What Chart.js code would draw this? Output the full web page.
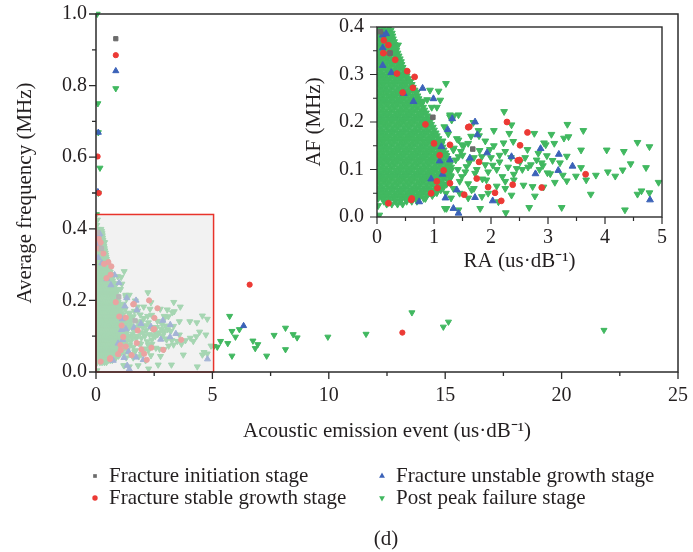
<!DOCTYPE html>
<html>
<head>
<meta charset="utf-8">
<script src="https://cdn.jsdelivr.net/npm/chart.js@4/dist/chart.umd.min.js"></script>
<style>
  html, body { margin: 0; padding: 0; background: #ffffff; }
  #wrap { position: relative; width: 693px; height: 552px; }
  #wrap canvas { position: absolute; left: 0; top: 0; }
</style>
</head>
<body>
<div id="wrap">
  <canvas id="mainChart" width="693" height="552"></canvas>
  <canvas id="insetChart" width="693" height="552"></canvas>
</div>
<script>
// ---- Series labels, colours and marker shapes ----
const seriesLabels = [
  'Fracture initiation stage',
  'Fracture stable growth stage',
  'Fracture unstable growth stage',
  'Post peak failure stage'
];
const seriesColors = ['#6b6b6b', '#ec3a35', '#3b62b8', '#41b860'];
const seriesStyles = ['rect', 'circle', 'triangle', 'triangle'];
const seriesRotation = [0, 0, 0, 180];

// ---- RA (us·dB^-1) vs AF (MHz) points, [x, y] ----
const initiationPts = [
  [0.85, 0.931], [0.98, 0.210], [1.68, 0.143], [0.23, 0.345], [0.06, 0.390]
];

const stableGrowthPts = [
  [0.85, 0.885], [0.07, 0.602], [0.12, 0.500], [6.60, 0.244], [13.16, 0.110],
  [0.12, 0.372], [0.22, 0.345], [0.32, 0.331], [0.53, 0.307], [0.66, 0.295],
  [0.35, 0.302], [0.20, 0.362], [0.11, 0.345], [1.60, 0.189], [2.28, 0.200],
  [2.64, 0.178], [2.51, 0.151], [2.47, 0.119], [1.75, 0.081], [1.95, 0.063],
  [2.07, 0.051], [2.89, 0.062], [3.66, 0.090], [1.53, 0.047], [0.20, 0.029],
  [0.60, 0.036], [1.06, 0.061], [2.38, 0.068], [2.18, 0.034], [1.28, 0.152],
  [1.28, 0.071], [0.61, 0.039], [2.50, 0.120], [1.79, 0.116], [1.62, 0.190],
  [0.63, 0.272], [0.45, 0.262], [0.85, 0.195], [1.00, 0.155], [1.10, 0.130],
  [1.17, 0.098], [1.05, 0.075], [0.95, 0.050]
];

const unstableGrowthPts = [
  [0.85, 0.841], [0.10, 0.669], [0.08, 0.503], [6.34, 0.129],
  [0.10, 0.356], [0.10, 0.319], [0.25, 0.304], [0.47, 0.260], [0.99, 0.249],
  [1.32, 0.207], [1.72, 0.200], [1.24, 0.184], [2.87, 0.144], [3.19, 0.132],
  [3.43, 0.107], [2.78, 0.091], [3.18, 0.098], [2.03, 0.034], [1.34, 0.018],
  [4.79, 0.036], [0.74, 0.032], [0.80, 0.271], [1.13, 0.148], [1.43, 0.008],
  [0.10, 0.383], [0.16, 0.386], [0.64, 0.243], [1.28, 0.120], [1.76, 0.173],
  [1.63, 0.124], [1.93, 0.135], [2.36, 0.127], [1.72, 0.041], [1.40, 0.057],
  [1.10, 0.118], [1.15, 0.090], [0.95, 0.080], [1.20, 0.040]
];

// Post peak: dense core around the origin, one row per AF level with its RA readings
const postPeakCoreRows = [
  [0.399, [0.02, 0.11, 0.21]],
  [0.393, [0.07, 0.16, 0.24]],
  [0.387, [0.02, 0.12, 0.21, 0.26]],
  [0.381, [0.07, 0.17, 0.27]],
  [0.375, [0.02, 0.11, 0.22, 0.28]],
  [0.369, [0.07, 0.16, 0.26, 0.30]],
  [0.363, [0.02, 0.12, 0.21, 0.31]],
  [0.357, [0.07, 0.17, 0.27, 0.32]],
  [0.351, [0.02, 0.11, 0.22, 0.31, 0.34]],
  [0.345, [0.07, 0.16, 0.26, 0.36]],
  [0.339, [0.02, 0.12, 0.21, 0.32, 0.38]],
  [0.333, [0.07, 0.17, 0.27, 0.36, 0.40]],
  [0.327, [0.02, 0.11, 0.22, 0.31, 0.42]],
  [0.321, [0.07, 0.16, 0.26, 0.37, 0.43]],
  [0.315, [0.02, 0.12, 0.21, 0.32, 0.41, 0.45]],
  [0.309, [0.07, 0.17, 0.27, 0.36, 0.47]],
  [0.303, [0.02, 0.11, 0.22, 0.31, 0.42, 0.50]],
  [0.297, [0.07, 0.16, 0.26, 0.37, 0.46, 0.52]],
  [0.291, [0.02, 0.12, 0.21, 0.32, 0.41, 0.52, 0.55]],
  [0.285, [0.07, 0.17, 0.27, 0.36, 0.47, 0.58]],
  [0.279, [0.02, 0.11, 0.22, 0.31, 0.42, 0.51, 0.61]],
  [0.273, [0.07, 0.16, 0.26, 0.37, 0.46, 0.57, 0.63]],
  [0.267, [0.02, 0.12, 0.21, 0.32, 0.41, 0.52, 0.62, 0.66]],
  [0.261, [0.07, 0.17, 0.27, 0.36, 0.47, 0.56, 0.68]],
  [0.255, [0.02, 0.11, 0.22, 0.31, 0.42, 0.51, 0.62, 0.71]],
  [0.249, [0.07, 0.16, 0.26, 0.37, 0.46, 0.57, 0.66, 0.73]],
  [0.243, [0.02, 0.12, 0.21, 0.32, 0.41, 0.52, 0.61, 0.72, 0.76]],
  [0.237, [0.07, 0.17, 0.27, 0.36, 0.47, 0.56, 0.67, 0.78]],
  [0.231, [0.02, 0.11, 0.22, 0.31, 0.42, 0.51, 0.62, 0.71, 0.81]],
  [0.225, [0.07, 0.16, 0.26, 0.37, 0.46, 0.57, 0.66, 0.77, 0.83]],
  [0.219, [0.02, 0.12, 0.21, 0.32, 0.41, 0.52, 0.61, 0.72, 0.81, 0.86]],
  [0.213, [0.07, 0.17, 0.27, 0.36, 0.47, 0.56, 0.67, 0.76, 0.88]],
  [0.207, [0.02, 0.11, 0.22, 0.31, 0.42, 0.51, 0.62, 0.71, 0.82, 0.90]],
  [0.201, [0.07, 0.16, 0.26, 0.37, 0.46, 0.57, 0.66, 0.77, 0.86, 0.93]],
  [0.195, [0.02, 0.12, 0.21, 0.32, 0.41, 0.52, 0.61, 0.72, 0.81, 0.92, 0.95]],
  [0.189, [0.07, 0.17, 0.27, 0.36, 0.47, 0.56, 0.67, 0.76, 0.87, 0.98]],
  [0.183, [0.02, 0.11, 0.22, 0.31, 0.42, 0.51, 0.62, 0.71, 0.82, 0.91, 1.00]],
  [0.177, [0.07, 0.16, 0.26, 0.37, 0.46, 0.57, 0.66, 0.77, 0.86, 0.97, 1.03]],
  [0.171, [0.02, 0.12, 0.21, 0.32, 0.41, 0.52, 0.61, 0.72, 0.81, 0.92, 1.01, 1.05]],
  [0.165, [0.07, 0.17, 0.27, 0.36, 0.47, 0.56, 0.67, 0.76, 0.87, 0.96, 1.08]],
  [0.159, [0.02, 0.11, 0.22, 0.31, 0.42, 0.51, 0.62, 0.71, 0.82, 0.91, 1.02, 1.10]],
  [0.153, [0.07, 0.16, 0.26, 0.37, 0.46, 0.57, 0.66, 0.77, 0.86, 0.97, 1.06, 1.13]],
  [0.147, [0.02, 0.12, 0.21, 0.32, 0.41, 0.52, 0.61, 0.72, 0.81, 0.92, 1.01, 1.12, 1.15]],
  [0.141, [0.07, 0.17, 0.27, 0.36, 0.47, 0.56, 0.67, 0.76, 0.87, 0.96, 1.07, 1.17]],
  [0.135, [0.02, 0.11, 0.22, 0.31, 0.42, 0.51, 0.62, 0.71, 0.82, 0.91, 1.02, 1.11, 1.20]],
  [0.129, [0.07, 0.16, 0.26, 0.37, 0.46, 0.57, 0.66, 0.77, 0.86, 0.97, 1.06, 1.17, 1.22]],
  [0.123, [0.02, 0.12, 0.21, 0.32, 0.41, 0.52, 0.61, 0.72, 0.81, 0.92, 1.01, 1.12, 1.24]],
  [0.117, [0.07, 0.17, 0.27, 0.36, 0.47, 0.56, 0.67, 0.76, 0.87, 0.96, 1.07, 1.16, 1.26]],
  [0.111, [0.02, 0.11, 0.22, 0.31, 0.42, 0.51, 0.62, 0.71, 0.82, 0.91, 1.02, 1.11, 1.22, 1.28]],
  [0.105, [0.07, 0.16, 0.26, 0.37, 0.46, 0.57, 0.66, 0.77, 0.86, 0.97, 1.06, 1.17, 1.26, 1.30]],
  [0.099, [0.02, 0.12, 0.21, 0.32, 0.41, 0.52, 0.61, 0.72, 0.81, 0.92, 1.01, 1.12, 1.21, 1.30]],
  [0.093, [0.07, 0.17, 0.27, 0.36, 0.47, 0.56, 0.67, 0.76, 0.87, 0.96, 1.07, 1.16, 1.27]],
  [0.087, [0.02, 0.11, 0.22, 0.31, 0.42, 0.51, 0.62, 0.71, 0.82, 0.91, 1.02, 1.11, 1.22, 1.29]],
  [0.081, [0.07, 0.16, 0.26, 0.37, 0.46, 0.57, 0.66, 0.77, 0.86, 0.97, 1.06, 1.17, 1.28]],
  [0.075, [0.02, 0.12, 0.21, 0.32, 0.41, 0.52, 0.61, 0.72, 0.81, 0.92, 1.01, 1.12, 1.25]],
  [0.069, [0.07, 0.17, 0.27, 0.36, 0.47, 0.56, 0.67, 0.76, 0.87, 0.96, 1.07, 1.16, 1.22]],
  [0.063, [0.02, 0.11, 0.22, 0.31, 0.42, 0.51, 0.62, 0.71, 0.82, 0.91, 1.02, 1.11, 1.17]],
  [0.057, [0.07, 0.16, 0.26, 0.37, 0.46, 0.57, 0.66, 0.77, 0.86, 0.97, 1.06, 1.12]],
  [0.051, [0.02, 0.12, 0.21, 0.32, 0.41, 0.52, 0.61, 0.72, 0.81, 0.92, 1.01, 1.05]],
  [0.045, [0.07, 0.17, 0.27, 0.36, 0.47, 0.56, 0.67, 0.76, 0.87, 0.97]],
  [0.039, [0.02, 0.11, 0.22, 0.31, 0.42, 0.51, 0.62, 0.71, 0.82, 0.85]],
  [0.033, [0.12, 0.21, 0.32, 0.41, 0.52, 0.61, 0.70]],
  [0.027, [0.17, 0.26, 0.36, 0.45]],
  [0.024, [0.02]],
  [0.004, [0.04]]
];

// Post peak: scattered events outside the core
const postPeakScatterPts = [
  [0.05, 1.000], [0.85, 0.792], [0.08, 0.750], [0.10, 0.669], [0.17, 0.570],
  [0.10, 0.500], [0.03, 0.410], [0.06, 0.425], [0.02, 0.440],
  [5.06, 0.072], [5.21, 0.070], [5.35, 0.086], [5.66, 0.080], [5.74, 0.156],
  [5.84, 0.114], [5.84, 0.045], [5.99, 0.098], [6.16, 0.119], [6.74, 0.087],
  [6.95, 0.077], [6.84, 0.066], [7.33, 0.045], [7.65, 0.103], [8.14, 0.123],
  [8.14, 0.063], [8.47, 0.105], [8.64, 0.096], [9.96, 0.098], [11.60, 0.106],
  [13.57, 0.166], [14.92, 0.126], [15.14, 0.140], [21.82, 0.117],
  [3.34, 0.195], [3.06, 0.174], [3.62, 0.182], [3.28, 0.166], [3.36, 0.169],
  [2.93, 0.156], [3.11, 0.155], [4.57, 0.157], [4.78, 0.148], [3.58, 0.141],
  [4.03, 0.141], [4.33, 0.138], [2.98, 0.129], [3.33, 0.128], [3.08, 0.119],
  [3.21, 0.114], [4.45, 0.112], [2.91, 0.108], [3.58, 0.104], [4.31, 0.099],
  [4.72, 0.104], [4.05, 0.095], [3.04, 0.091], [3.26, 0.088], [3.49, 0.086],
  [3.84, 0.088], [4.18, 0.086], [3.33, 0.076], [3.12, 0.073], [3.67, 0.078],
  [4.94, 0.073], [4.64, 0.055], [4.57, 0.048], [4.78, 0.051], [3.75, 0.048],
  [3.24, 0.020], [4.35, 0.015],
  [2.23, 0.222], [2.36, 0.194], [1.69, 0.199], [2.05, 0.182], [2.32, 0.176],
  [2.76, 0.176], [1.78, 0.182], [1.79, 0.171], [2.39, 0.159], [2.22, 0.156],
  [2.64, 0.142], [2.96, 0.152], [2.83, 0.134], [1.98, 0.142], [2.25, 0.138],
  [1.60, 0.155], [1.47, 0.138], [1.84, 0.127], [2.15, 0.116], [2.51, 0.116],
  [2.89, 0.114], [2.03, 0.109], [2.65, 0.105], [2.45, 0.102], [2.99, 0.093],
  [2.40, 0.078], [2.57, 0.067], [2.73, 0.064], [2.92, 0.063], [2.25, 0.060],
  [1.66, 0.057], [2.36, 0.046], [2.13, 0.032], [2.77, 0.044], [1.84, 0.043],
  [1.81, 0.018], [2.26, 0.009], [2.67, 0.020], [1.22, 0.018], [1.34, 0.060],
  [1.72, 0.092], [1.57, 0.106], [1.92, 0.078], [1.28, 0.211], [1.35, 0.213],
  [1.11, 0.246],
  [1.15, 0.160], [1.20, 0.130], [1.25, 0.105], [1.30, 0.085], [1.38, 0.120],
  [1.42, 0.100], [1.45, 0.075], [1.50, 0.130], [1.55, 0.095], [1.60, 0.070],
  [1.62, 0.115], [1.35, 0.145], [1.40, 0.165], [1.52, 0.150], [1.18, 0.190],
  [1.25, 0.175], [1.45, 0.050], [1.30, 0.040], [1.60, 0.040], [1.70, 0.060],
  [1.75, 0.100], [1.80, 0.140], [1.85, 0.080], [1.90, 0.110], [1.95, 0.095],
  [2.00, 0.125], [2.10, 0.100], [2.15, 0.130], [2.20, 0.085], [2.30, 0.105],
  [2.35, 0.125], [2.40, 0.090], [2.55, 0.100], [2.60, 0.125], [2.70, 0.110],
  [2.80, 0.120], [2.85, 0.100], [1.70, 0.125], [1.65, 0.170], [1.90, 0.160],
  [2.05, 0.150], [1.95, 0.050], [2.10, 0.065], [2.25, 0.075],
  [0.37, 0.362], [0.32, 0.348], [0.58, 0.285], [0.93, 0.267], [1.08, 0.265],
  [1.21, 0.281], [1.05, 0.231], [0.96, 0.231], [0.81, 0.244], [1.28, 0.215],
  [1.43, 0.215], [1.31, 0.204], [1.43, 0.162], [1.49, 0.152], [1.34, 0.141],
  [1.43, 0.127], [1.21, 0.050], [1.19, 0.018], [1.43, 0.015], [1.49, 0.085],
  [0.23, 0.380], [0.70, 0.263], [0.88, 0.247]
];

// Window of the main plot that the inset magnifies
const zoomWindowX = [0, 5.05];
const zoomWindowY = [0, 0.44];

// Axis titles
const mainXTitle = 'Acoustic emission event (us·dB\u207B\u00B9)';
const mainYTitle = 'Average frequency (MHz)';
const insetXTitle = 'RA (us·dB\u207B\u00B9)';
const insetYTitle = 'AF (MHz)';
const panelTag = '(d)';

// ---- Build datasets ----
const postPeakPts = postPeakCoreRows
  .flatMap(([af, ras]) => ras.map(ra => [ra, af]))
  .concat(postPeakScatterPts);
const seriesPoints = [initiationPts, stableGrowthPts, unstableGrowthPts, postPeakPts];

function buildDatasets(radii) {
  return seriesLabels.map((label, i) => ({
    label,
    data: seriesPoints[i].map(([x, y]) => ({ x, y })),
    pointStyle: seriesStyles[i],
    rotation: seriesRotation[i],
    backgroundColor: seriesColors[i],
    borderColor: seriesColors[i],
    borderWidth: 1,
    pointRadius: radii[i],
    pointHoverRadius: radii[i],
    showLine: false
  }));
}

const FONT = "'Liberation Serif', 'Times New Roman', serif";
const INK = '#231f20';
Chart.defaults.font.family = FONT;
Chart.defaults.color = INK;

// Frame around the plot area, with major ticks at the labelled values and minor ticks halfway between
const frameTicks = {
  id: 'frameTicks',
  afterDraw(chart, args, opts) {
    const { ctx, chartArea: a } = chart;
    const { x, y } = chart.scales;
    ctx.save();
    ctx.strokeStyle = opts.color;
    ctx.lineWidth = opts.width;
    ctx.strokeRect(a.left, a.top, a.right - a.left, a.bottom - a.top);
    ctx.lineWidth = opts.tickWidth;
    ctx.beginPath();
    const xs = x.ticks.map(t => t.value);
    xs.forEach((v, i) => {
      const p = x.getPixelForValue(v);
      ctx.moveTo(p, a.bottom); ctx.lineTo(p, a.bottom + opts.major);
      if (i < xs.length - 1) {
        const m = x.getPixelForValue((v + xs[i + 1]) / 2);
        ctx.moveTo(m, a.bottom); ctx.lineTo(m, a.bottom + opts.minor);
      }
    });
    const ys = y.ticks.map(t => t.value);
    ys.forEach((v, i) => {
      const p = y.getPixelForValue(v);
      ctx.moveTo(a.left, p); ctx.lineTo(a.left - opts.major, p);
      if (i < ys.length - 1) {
        const m = y.getPixelForValue((v + ys[i + 1]) / 2);
        ctx.moveTo(a.left, m); ctx.lineTo(a.left - opts.minor, m);
      }
    });
    ctx.stroke();
    ctx.restore();
  }
};

// Shaded, outlined window over the region shown in the inset
const zoomBox = {
  id: 'zoomBox',
  afterDatasetsDraw(chart) {
    const { ctx } = chart;
    const { x, y } = chart.scales;
    const l = x.getPixelForValue(zoomWindowX[0]);
    const r = x.getPixelForValue(zoomWindowX[1]);
    const t = y.getPixelForValue(zoomWindowY[1]);
    const b = y.getPixelForValue(zoomWindowY[0]);
    ctx.save();
    ctx.fillStyle = 'rgba(234,234,234,0.6)';
    ctx.fillRect(l, t, r - l, b - t);
    ctx.strokeStyle = '#e8332b';
    ctx.lineWidth = 1.5;
    ctx.strokeRect(l, t, r - l, b - t);
    ctx.restore();
  }
};

function drawMarker(ctx, style, rotation, radius, px, py, color) {
  if (Chart.helpers && Chart.helpers.drawPoint) {
    ctx.fillStyle = color;
    ctx.strokeStyle = color;
    Chart.helpers.drawPoint(ctx, { pointStyle: style, rotation, radius, borderWidth: 0 }, px, py);
    return;
  }
  ctx.fillStyle = color;
  ctx.beginPath();
  if (style === 'circle') ctx.arc(px, py, radius, 0, Math.PI * 2);
  else if (style === 'rect') { const s = radius * Math.SQRT2; ctx.rect(px - s / 2, py - s / 2, s, s); }
  else {
    const d = rotation === 180 ? -1 : 1;
    ctx.moveTo(px, py - d * radius);
    ctx.lineTo(px + radius * 0.866, py + d * radius / 2);
    ctx.lineTo(px - radius * 0.866, py + d * radius / 2);
  }
  ctx.fill();
}

// Two-column legend beneath the axis title, plus the panel tag
const legendBlock = {
  id: 'legendBlock',
  afterDraw(chart, args, opts) {
    const { ctx } = chart;
    ctx.save();
    ctx.font = `21px ${FONT}`;
    ctx.textBaseline = 'middle';
    ctx.textAlign = 'left';
    chart.data.datasets.forEach((ds, i) => {
      const col = i < 2 ? 0 : 1;
      const row = i % 2;
      const mx = opts.colX[col];
      const my = opts.rowY[row];
      drawMarker(ctx, ds.pointStyle, ds.rotation, opts.markerR[i], mx, my, ds.backgroundColor);
      ctx.fillStyle = INK;
      ctx.fillText(ds.label, mx + 14, my);
    });
    ctx.textAlign = 'center';
    ctx.fillText(panelTag, opts.tagX, opts.tagY);
    ctx.restore();
  }
};

const tickFont = { family: FONT, size: 20 };
const titleFont = { family: FONT, size: 21 };
const oneDecimal = v => Number(v).toFixed(1);

// ---- Main chart ----
new Chart(document.getElementById('mainChart'), {
  type: 'scatter',
  data: { datasets: buildDatasets([3.0, 2.6, 3.5, 3.5]) },
  options: {
    responsive: false,
    animation: false,
    devicePixelRatio: 1,
    events: [],
    layout: { autoPadding: false, padding: { left: 0, right: 10, top: 13, bottom: 105 } },
    datasets: { scatter: { clip: { left: 0, top: 6, right: 6, bottom: 0 } } },
    plugins: {
      legend: { display: false },
      tooltip: { enabled: false },
      frameTicks: { color: '#2b2b2b', width: 1.5, tickWidth: 1.3, major: 7, minor: 4 },
      legendBlock: { colX: [95, 382], rowY: [476, 498], markerR: [2.6, 2.7, 3.4, 3.4], tagX: 386, tagY: 539 }
    },
    scales: {
      x: {
        type: 'linear', min: 0, max: 25,
        ticks: { stepSize: 5, padding: 5, font: tickFont, color: INK, maxRotation: 0 },
        grid: { display: false, drawTicks: true, tickLength: 7 },
        border: { display: false },
        title: { display: true, text: mainXTitle, font: titleFont, color: INK, padding: { top: 0, bottom: 3 } },
        afterFit: s => { s.height = 75; }
      },
      y: {
        type: 'linear', min: 0, max: 1,
        ticks: { stepSize: 0.2, padding: 2, font: tickFont, color: INK, callback: oneDecimal },
        grid: { display: false, drawTicks: true, tickLength: 7 },
        border: { display: false },
        title: { display: true, text: mainYTitle, font: titleFont, color: INK, padding: { top: 13, bottom: 0 } },
        afterFit: s => { s.width = 96; }
      }
    }
  },
  plugins: [zoomBox, frameTicks, legendBlock]
});

// ---- Inset chart: same events, magnified ----
new Chart(document.getElementById('insetChart'), {
  type: 'scatter',
  data: { datasets: buildDatasets([3.2, 2.9, 3.9, 3.9]) },
  options: {
    responsive: false,
    animation: false,
    devicePixelRatio: 1,
    events: [],
    layout: { autoPadding: false, padding: { left: 297, right: 31, top: 27, bottom: 275 } },
    datasets: { scatter: { clip: 0 } },
    plugins: {
      legend: { display: false },
      tooltip: { enabled: false },
      frameTicks: { color: '#2b2b2b', width: 1.4, tickWidth: 1.2, major: 7, minor: 4 }
    },
    scales: {
      x: {
        type: 'linear', min: 0, max: 5,
        ticks: { stepSize: 1, padding: 2, font: tickFont, color: INK, maxRotation: 0 },
        grid: { display: false, drawTicks: true, tickLength: 7 },
        border: { display: false },
        title: { display: true, text: insetXTitle, font: titleFont, color: INK, padding: { top: 0, bottom: 3 } },
        afterFit: s => { s.height = 60; }
      },
      y: {
        type: 'linear', min: 0, max: 0.4,
        ticks: { stepSize: 0.1, padding: 6, font: tickFont, color: INK, callback: oneDecimal },
        grid: { display: false, drawTicks: true, tickLength: 7 },
        border: { display: false },
        title: { display: true, text: insetYTitle, font: titleFont, color: INK, padding: { top: 5, bottom: 0 } },
        afterFit: s => { s.width = 80; }
      }
    }
  },
  plugins: [frameTicks]
});
</script>
</body>
</html>
